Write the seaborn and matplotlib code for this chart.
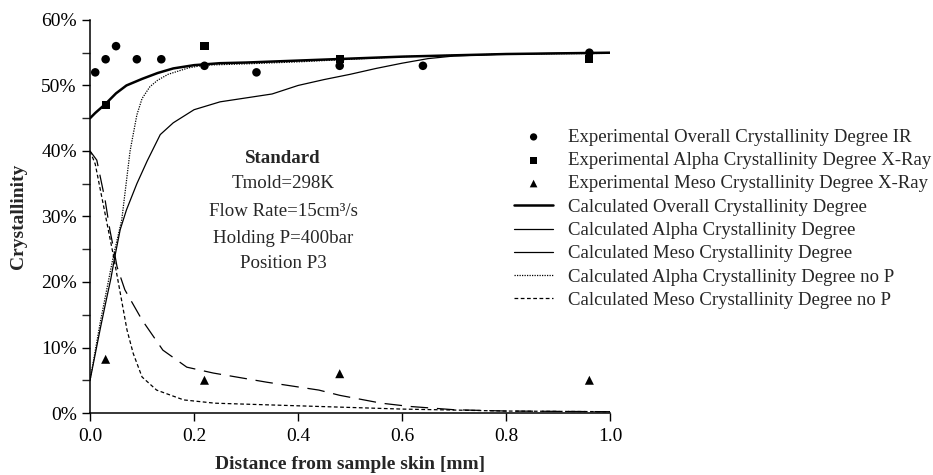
import matplotlib
matplotlib.use("Agg")
import matplotlib.pyplot as plt
from matplotlib.ticker import PercentFormatter, MultipleLocator
import seaborn as sns

# ---- Experimental data ----
ir_x = [0.01, 0.03, 0.05, 0.09, 0.137, 0.22, 0.32, 0.48, 0.64, 0.96]
ir_y = [52, 54, 56, 54, 54, 53, 52, 53, 53, 55]

xr_alpha_x = [0.03, 0.22, 0.48, 0.96]
xr_alpha_y = [47, 56, 54, 54]

xr_meso_x = [0.03, 0.22, 0.48, 0.96]
xr_meso_y = [8.2, 5, 6, 5]

# ---- Calculated curves ----
overall_x = [0, 0.01, 0.02, 0.03, 0.05, 0.07, 0.1, 0.13, 0.16, 0.2, 0.25, 0.3, 0.4, 0.5, 0.6, 0.7, 0.8, 0.9, 1.0]
overall_y = [45, 45.8, 46.5, 47.2, 48.8, 50.0, 51.0, 51.9, 52.6, 53.1, 53.4, 53.5, 53.8, 54.1, 54.4, 54.6, 54.8, 54.9, 55.0]

alpha_x = [0, 0.01, 0.02, 0.03, 0.04, 0.048, 0.058, 0.07, 0.09, 0.11, 0.135, 0.16, 0.18, 0.2, 0.25, 0.3, 0.35, 0.4,
           0.45, 0.5, 0.55, 0.6, 0.65, 0.7, 0.8, 1.0]
alpha_y = [5, 9, 13, 16.8, 20.5, 24, 28, 31, 35, 38.5, 42.5, 44.3, 45.3, 46.3, 47.5, 48.1, 48.7, 50.0,
           50.9, 51.7, 52.6, 53.4, 54.1, 54.5, 54.8, 55.0]

meso_x = [0, 0.013, 0.029, 0.038, 0.048, 0.052, 0.067, 0.1, 0.14, 0.186, 0.237, 0.34, 0.44, 0.48, 0.56, 0.615,
          0.7, 0.8, 1.0]
meso_y = [40, 38.6, 32.5, 28, 24, 22.3, 18.8, 14.2, 9.6, 7, 6.1, 4.7, 3.5, 2.7, 1.5, 1.0, 0.5, 0.3, 0.2]

alpha_np_x = [0, 0.01, 0.02, 0.03, 0.045, 0.061, 0.077, 0.09, 0.1, 0.115, 0.13, 0.15, 0.19, 0.22, 0.3, 0.4, 0.5,
              0.6, 0.7, 0.8, 1.0]
alpha_np_y = [5, 9.5, 14, 18, 24, 29.5, 40, 45.5, 48.0, 49.8, 50.8, 51.7, 52.7, 53.1, 53.3, 53.6, 54.0,
              54.4, 54.6, 54.8, 54.9]

meso_np_x = [0, 0.01, 0.02, 0.03, 0.045, 0.06, 0.071, 0.083, 0.1, 0.128, 0.18, 0.24, 0.44, 0.6, 0.8, 1.0]
meso_np_y = [40, 38, 34, 30, 24, 17.5, 12.7, 9.1, 5.5, 3.5, 2.0, 1.5, 1.0, 0.6, 0.3, 0.2]

labels = [
    "Experimental Overall Crystallinity Degree IR",
    "Experimental Alpha Crystallinity Degree X-Ray",
    "Experimental Meso Crystallinity Degree X-Ray",
    "Calculated Overall Crystallinity Degree",
    "Calculated Alpha Crystallinity Degree",
    "Calculated Meso Crystallinity Degree",
    "Calculated Alpha Crystallinity Degree no P",
    "Calculated Meso Crystallinity Degree no P",
]

annotation_lines = ["Standard", "Tmold=298K", "Flow Rate=15cm³/s", "Holding P=400bar", "Position P3"]

sns.set_style("ticks")
plt.rcParams["font.family"] = ["Liberation Serif", "DejaVu Serif"]

fig = plt.figure(figsize=(9.33, 4.75), dpi=100)
ax = fig.add_axes([0.0965, 0.1305, 0.5575, 0.8275])

sns.scatterplot(x=ir_x, y=ir_y, ax=ax, marker="o", color="black", s=38, edgecolor="none", label=labels[0], zorder=5)
sns.scatterplot(x=xr_alpha_x, y=xr_alpha_y, ax=ax, marker="s", color="black", s=34, edgecolor="none", label=labels[1], zorder=5)
sns.scatterplot(x=xr_meso_x, y=xr_meso_y, ax=ax, marker="^", color="black", s=42, edgecolor="none", label=labels[2], zorder=5)

sns.lineplot(x=overall_x, y=overall_y, ax=ax, color="black", lw=1.8, label=labels[3], estimator=None, sort=False)
sns.lineplot(x=alpha_x, y=alpha_y, ax=ax, color="black", lw=0.9, label=labels[4], estimator=None, sort=False)
sns.lineplot(x=meso_x, y=meso_y, ax=ax, color="black", lw=0.9, label=labels[5], estimator=None, sort=False,
             linestyle=(0, (14, 7)))
sns.lineplot(x=alpha_np_x, y=alpha_np_y, ax=ax, color="black", lw=0.9, label=labels[6], estimator=None, sort=False,
             linestyle=(0, (1, 1)))
sns.lineplot(x=meso_np_x, y=meso_np_y, ax=ax, color="black", lw=0.9, label=labels[7], estimator=None, sort=False,
             linestyle=(0, (3, 2)))

ax.set_xlim(0, 1.0)
ax.set_ylim(0, 60)
ax.xaxis.set_major_locator(MultipleLocator(0.2))
ax.xaxis.set_major_formatter(plt.FuncFormatter(lambda v, p: f"{v:.1f}"))
ax.yaxis.set_major_locator(MultipleLocator(10))
ax.yaxis.set_minor_locator(MultipleLocator(5))
ax.yaxis.set_major_formatter(PercentFormatter(decimals=0))
ax.tick_params(axis="both", which="major", labelsize=14, direction="out", length=6, width=1, colors="black")
ax.tick_params(axis="y", which="minor", direction="out", length=6, width=1)
ax.tick_params(axis="x", which="major", pad=5)
for s in ["top", "right"]:
    ax.spines[s].set_visible(False)
for s in ["left", "bottom"]:
    ax.spines[s].set_linewidth(1.1)
    ax.spines[s].set_color("black")

ax.set_xlabel("Distance from sample skin [mm]", fontsize=14, fontweight="bold", labelpad=8)
ax.set_ylabel("Crystallinity", fontsize=14, fontweight="bold", labelpad=10)

# annotation block
ann_y = [38.8, 35.0, 30.7, 26.6, 22.8]
for i, (txt, yy) in enumerate(zip(annotation_lines, ann_y)):
    ax.text(0.371, yy, txt, ha="center", va="center", fontsize=13.6,
            fontweight="bold" if i == 0 else "normal")

handles, labs = ax.get_legend_handles_labels()
leg = ax.legend(handles, labs, loc="upper left", bbox_to_anchor=(0.551, 0.729), bbox_transform=fig.transFigure,
                frameon=False, fontsize=13.5, handlelength=2.08, handletextpad=0.8, labelspacing=0.33,
                borderpad=0, borderaxespad=0, markerscale=0.85)
leg_lines = leg.get_lines()
if len(leg_lines) > 2:
    leg_lines[2].set_linestyle("-")

fig.savefig("out.png", dpi=100)
